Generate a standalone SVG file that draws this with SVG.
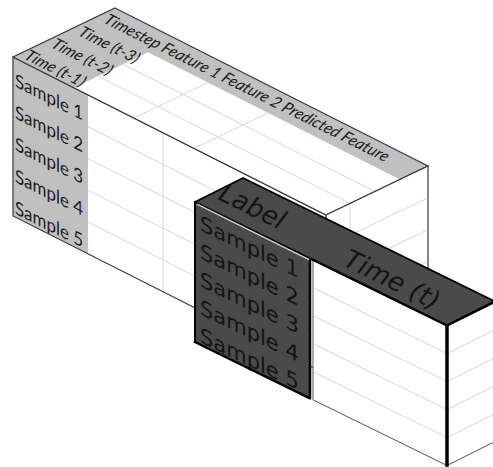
<svg xmlns="http://www.w3.org/2000/svg" width="493" height="467" viewBox="0 0 493 467">
<style>
.white{fill:#fff}
.grey{fill:#c0c0c0}
.dark{fill:#4a4a4a}
.grid{fill:none;stroke:#d8d8d8;stroke-width:1;vector-effect:non-scaling-stroke}
.edge{fill:none;stroke:#3a3a3a;stroke-width:1.2;vector-effect:non-scaling-stroke}
.bk{fill:none;stroke:#000;stroke-linejoin:round;stroke-linecap:square}
.tt{font-family:Lato,"Liberation Sans",sans-serif;font-style:italic;font-size:16px;fill:#1e1e1e}
.ft{font-family:Lato,"Liberation Sans",sans-serif;font-size:19px;fill:#1e1e1e}
.dt{font-family:"DejaVu Sans",Verdana,sans-serif;font-size:21px;fill:#141414}
.lt{font-family:"DejaVu Sans",sans-serif;font-style:oblique;font-size:26px;fill:#141414}
</style>

<g id="big-front" transform="matrix(1,0.505,0,1,13,57)">
  <rect width="313" height="159" class="white"/>
  <rect width="75" height="159" class="grey"/>
  <path class="grid" d="M75,31.8H313M75,63.6H313M75,95.4H313M75,127.2H313M150,0V159"/>
  <text class="ft" x="2" y="28.5" textLength="68" lengthAdjust="spacingAndGlyphs">Sample 1</text>
  <text class="ft" x="2" y="60.3" textLength="68" lengthAdjust="spacingAndGlyphs">Sample 2</text>
  <text class="ft" x="2" y="92.1" textLength="68" lengthAdjust="spacingAndGlyphs">Sample 3</text>
  <text class="ft" x="2" y="123.9" textLength="68" lengthAdjust="spacingAndGlyphs">Sample 4</text>
  <text class="ft" x="2" y="155.7" textLength="68" lengthAdjust="spacingAndGlyphs">Sample 5</text>
  <rect width="313" height="159" class="edge"/>
</g>

<g id="big-top">
  <g transform="matrix(1,0.505,-1,0.48,115,8)">
    <rect width="313" height="102" class="white"/>
    <path class="grey" d="M0,0H313V28H61V102H0Z"/>
    <path class="grid" d="M61,53H313M61,78H313M121,28V102M181,28V102"/>
    <rect width="313" height="102" class="edge"/>
  </g>
  <text class="tt" transform="translate(102.5,22.5) rotate(26.3) skewX(-10)" textLength="315" lengthAdjust="spacingAndGlyphs">Timestep Feature 1 Feature 2 Predicted Feature</text>
  <text class="tt" transform="translate(77,35) rotate(26.3) skewX(-10)">Time (t-3)</text>
  <text class="tt" transform="translate(50,47) rotate(26.3) skewX(-10)">Time (t-2)</text>
  <text class="tt" transform="translate(23,58.5) rotate(26.3) skewX(-10)">Time (t-1)</text>
</g>

<g id="big-right" transform="matrix(1,-0.48,0,1,326,215)">
  <rect width="102" height="159" class="white"/>
  <path class="grid" d="M0,31.8H102M0,63.6H102M0,95.4H102M0,127.2H102M24,0V159"/>
  <rect width="102" height="159" class="edge"/>
</g>

<g id="label-box">
  <polygon class="white" points="313,259.8 447,325.5 447,465.5 313,399.8"/>
  <path class="grid" d="M313,287.8L447,353.5M313,315.8L447,381.5M313,343.8L447,409.5M313,371.8L447,437.5"/>
  <path d="M313,259.8V399.8L447,465.5" fill="none" stroke="#555" stroke-width="1"/>
  <polygon class="white" points="447,325.5 495,301.5 495,441.5 447,465.5"/>
  <path class="grid" d="M447,353.5L495,329.5M447,381.5L495,357.5M447,409.5L495,385.5M447,437.5L495,413.5"/>
  <path d="M447,465.5L495,441.5" fill="none" stroke="#555" stroke-width="1"/>
  <polygon class="dark" points="195,202 310,258.4 310,398.4 195,342"/>
  <g transform="matrix(1,0.49,0,1,195,202)">
    <text class="dt" x="5" y="25.5">Sample 1</text>
    <text class="dt" x="5" y="53.5">Sample 2</text>
    <text class="dt" x="5" y="81.5">Sample 3</text>
    <text class="dt" x="5" y="109.5">Sample 4</text>
    <text class="dt" x="5" y="137.5">Sample 5</text>
  </g>
  <path class="bk" stroke-width="2" d="M195,202V342"/>
  <path class="bk" stroke-width="2.5" d="M195,342L310,398.4V258.4"/>
  <polygon class="dark" points="195,202 243,178 495,301.5 447,325.5"/>
  <polygon class="bk" stroke-width="1.8" points="195,202 243,178 495,301.5 447,325.5"/>
  <path d="M197,204.2L309,259.6" fill="none" stroke="#d0d0d0" stroke-width="1.3"/>
  <path class="bk" stroke-width="2.5" d="M313,259.8L447,325.5L495,301.5"/>
  <path class="bk" stroke-width="3.5" d="M447,326V465"/>
  <text class="lt" transform="translate(217,199) rotate(26.1)">Label</text>
  <text class="lt" transform="translate(342,265) rotate(26.1)">Time (t)</text>
</g>
</svg>
